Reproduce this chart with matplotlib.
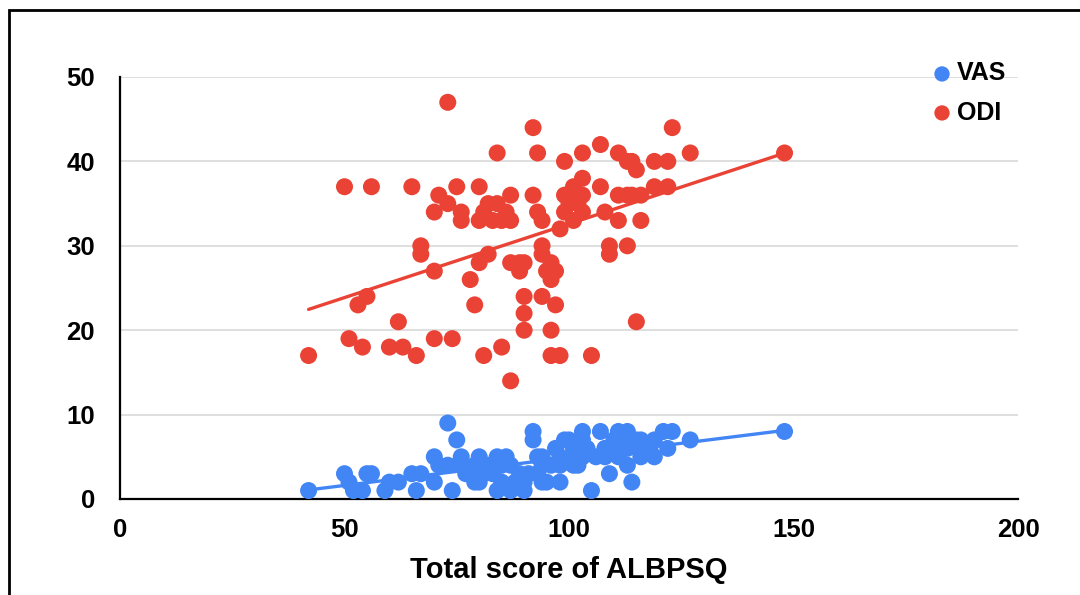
import numpy as np
import matplotlib
matplotlib.use('Agg')
import matplotlib.pyplot as plt
from matplotlib.patches import Rectangle

plt.rcParams['font.family'] = ['Liberation Sans', 'DejaVu Sans']
plt.rcParams['font.weight'] = 'bold'

# ---- data --------------------------------------------------------- #
odi_x = [42, 50, 51, 53, 54, 55, 56, 60, 62, 63,
         65, 66, 67, 67, 70, 70, 70, 71, 73, 73,
         74, 75, 76, 76, 78, 79, 80, 80, 82, 81,
         80, 81, 82, 83, 84, 85, 86, 87, 87, 84,
         85, 87, 87, 89, 90, 89, 90, 90, 90, 92,
         93, 92, 93, 94, 94, 94, 96, 95, 97, 96,
         94, 97, 96, 96, 98, 99, 99, 99, 98, 100,
         101, 101, 101, 102, 103, 103, 103, 103, 105, 107,
         107, 108, 109, 109, 111, 111, 111, 113, 113, 114,
         115, 114, 116, 116, 115, 119, 122, 119, 122, 123,
         127, 148, 113]
odi_y = [17, 37, 19, 23, 18, 24, 37, 18, 21, 18,
         37, 17, 30, 29, 27, 19, 34, 36, 47, 35,
         19, 37, 34, 33, 26, 23, 37, 28, 29, 17,
         33, 34, 35, 33, 35, 33, 34, 33, 36, 41,
         18, 14, 28, 28, 28, 27, 24, 22, 20, 44,
         41, 36, 34, 33, 30, 29, 28, 27, 27, 26,
         24, 23, 20, 17, 17, 40, 36, 34, 32, 35,
         33, 37, 36, 35, 38, 36, 34, 41, 17, 42,
         37, 34, 30, 29, 41, 36, 33, 30, 40, 40,
         39, 36, 36, 33, 21, 40, 40, 37, 37, 44,
         41, 41, 36]

vas_x = [42, 50, 51, 52, 54, 55, 56, 59, 60, 62,
         65, 67, 66, 70, 70, 71, 73, 75, 74, 73,
         76, 76, 78, 79, 80, 80, 82, 84, 86, 84,
         87, 90, 85, 88, 90, 87, 92, 92, 93, 94,
         94, 99, 103, 107, 111, 113, 121, 123, 127, 148,
         103, 104, 101, 98, 101, 103, 94, 96, 98, 101,
         102, 95, 98, 93, 105, 108, 108, 109, 110, 112,
         113, 113, 111, 113, 116, 116, 114, 115, 116, 119,
         119, 118, 122, 77, 79, 81, 83, 85, 89, 91,
         97, 100, 106, 110, 117]
vas_y = [1, 3, 2, 1, 1, 3, 3, 1, 2, 2,
         3, 3, 1, 2, 5, 4, 9, 7, 1, 4,
         5, 4, 3, 2, 5, 2, 4, 5, 5, 1,
         1, 1, 2, 2, 2, 4, 8, 7, 5, 4,
         2, 7, 8, 8, 8, 8, 8, 8, 7, 8,
         7, 6, 6, 5, 5, 5, 5, 4, 4, 4,
         4, 2, 2, 3, 1, 6, 5, 3, 7, 7,
         7, 4, 5, 6, 6, 5, 2, 7, 7, 7,
         5, 6, 6, 3, 4, 3, 3, 4, 3, 3,
         6, 7, 5, 6, 6]

x_ticks = [0, 50, 100, 150, 200]
y_ticks = [0, 10, 20, 30, 40, 50]

VAS_COLOR = '#4285F4'
ODI_COLOR = '#EA4335'

# ---- figure -------------------------------------------------------- #
fig = plt.figure(figsize=(10.8, 5.95), dpi=100)
ax = fig.add_axes([120 / 1080, 1 - 499 / 595, (1018 - 120) / 1080, (499 - 77) / 595])

# outer frame (runs off the right and bottom edges in the reference)
fig.patches.append(Rectangle((8.5 / 1080, -0.05), 1.2, 1 - 10 / 595 + 0.05,
                             transform=fig.transFigure, fill=False,
                             edgecolor='black', linewidth=2.0, zorder=0))

for xs, ys, color, label in [(vas_x, vas_y, VAS_COLOR, 'VAS'),
                             (odi_x, odi_y, ODI_COLOR, 'ODI')]:
    xs = np.array(xs)
    ys = np.array(ys)
    ax.scatter(xs, ys, s=150, color=color, edgecolors='none', zorder=3, label=label)
    slope, icept = np.polyfit(xs, ys, 1)
    xl = np.array([xs.min(), xs.max()])
    ax.plot(xl, slope * xl + icept, color=color, linewidth=2.4, zorder=4,
            solid_capstyle='round')

ax.set_xlim(0, 200)
ax.set_ylim(0, 50)
ax.set_xticks(x_ticks)
ax.set_yticks(y_ticks)
ax.tick_params(length=0, labelsize=18.5)
ax.tick_params(axis='x', pad=13.5)
ax.tick_params(axis='y', pad=18)
ax.yaxis.grid(True, color='#d9d9d9', linewidth=1.2)
ax.set_axisbelow(True)
for side in ('top', 'right'):
    ax.spines[side].set_visible(False)
for side in ('left', 'bottom'):
    ax.spines[side].set_linewidth(1.6)
ax.set_xlabel('Total score of ALBPSQ', fontsize=21, fontweight='bold', labelpad=10)

ax.legend(loc='upper left', bbox_to_anchor=(929.5 / 1080, 1 - 61.5 / 595),
          bbox_transform=fig.transFigure, frameon=False, fontsize=18,
          handlelength=1.0, handletextpad=0.1, labelspacing=0.6,
          borderpad=0, borderaxespad=0, markerscale=0.9)

fig.savefig('out.png', dpi=100)
